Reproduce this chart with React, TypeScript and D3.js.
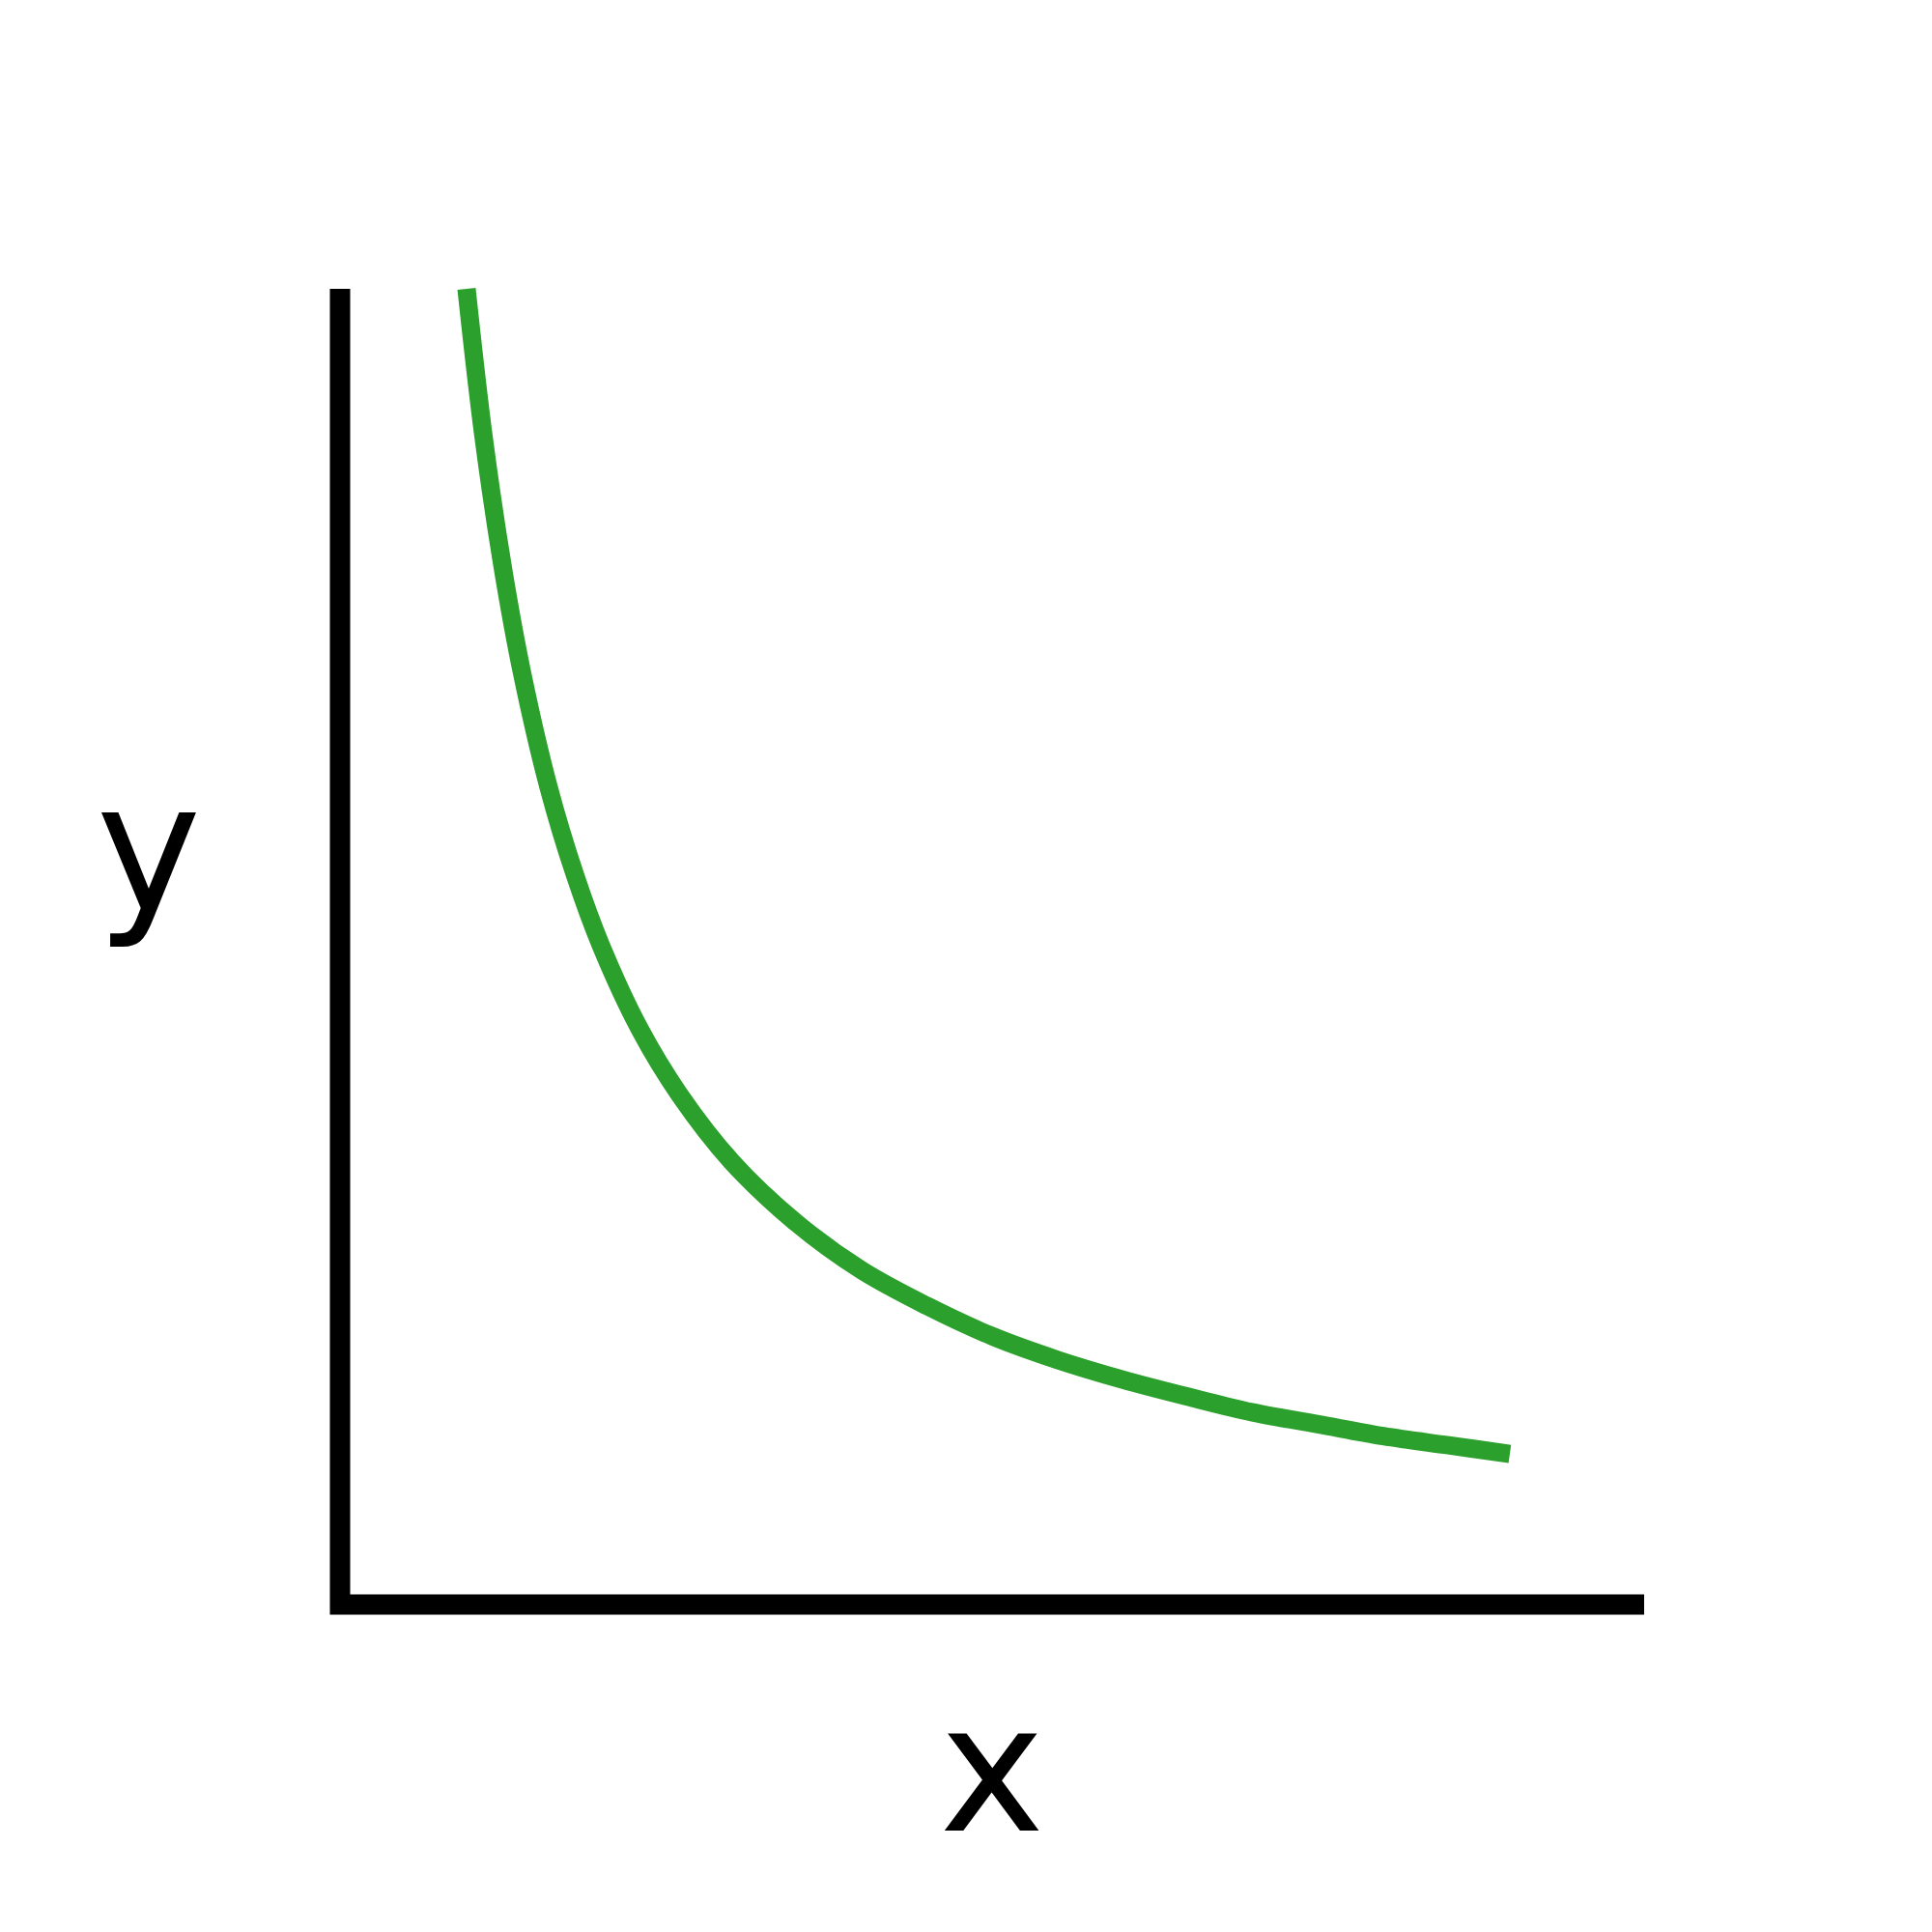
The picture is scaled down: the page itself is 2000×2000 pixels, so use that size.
import React from 'react';
import * as d3 from 'd3';

// Curve points (x in 0..10, y in 0..1)
const curveX = [0.97, 1.1, 1.25, 1.4, 1.6, 1.8, 2.0, 2.3, 2.6, 3.0, 3.5, 4.0, 4.5, 5.0, 5.5, 6.0, 6.5, 7.0, 7.5, 8.0, 8.5, 8.97];
const curveY = [1.0, 0.888, 0.787, 0.706, 0.621, 0.555, 0.501, 0.437, 0.388, 0.337, 0.29, 0.254, 0.227, 0.204, 0.186, 0.171, 0.158, 0.146, 0.137, 0.128, 0.121, 0.1145];

const xDomain = [0, 10];
const yDomain = [0, 1];
const xLabel = 'x';
const yLabel = 'y';

const App: React.FC = () => {
  const width = 2000;
  const height = 2000;
  const margin = { left: 352, right: 298, top: 299, bottom: 339 };

  const x = d3.scaleLinear().domain(xDomain).range([margin.left, width - margin.right]);
  const y = d3.scaleLinear().domain(yDomain).range([height - margin.bottom, margin.top]);

  const points: [number, number][] = curveX.map((d, i) => [d, curveY[i]]);
  const line = d3.line<[number, number]>()
    .x(d => x(d[0]))
    .y(d => y(d[1]))
    .curve(d3.curveCatmullRom.alpha(0.5));

  const x0 = x(xDomain[0]);
  const x1 = x(xDomain[1]);
  const y0 = y(yDomain[0]);
  const y1 = y(yDomain[1]);

  return (
    <svg
      width={width}
      height={height}
      style={{ position: 'absolute', left: 0, top: 0, background: '#fff' }}
    >
      <path
        d={line(points) ?? ''}
        fill="none"
        stroke="#2ca02c"
        strokeWidth={19}
        strokeLinecap="butt"
        strokeLinejoin="round"
      />
      {/* spines */}
      <path
        d={`M${x0},${y1} L${x0},${y0} L${x1},${y0}`}
        fill="none"
        stroke="#000"
        strokeWidth={21}
        strokeLinecap="butt"
        strokeLinejoin="miter"
      />
      <text
        x={(x0 + x1) / 2}
        y={1895}
        textAnchor="middle"
        fontFamily="DejaVu Sans"
        fontSize={184}
        fill="#000"
      >
        {xLabel}
      </text>
      <text
        x={154}
        y={942}
        textAnchor="middle"
        fontFamily="DejaVu Sans"
        fontSize={184}
        fill="#000"
      >
        {yLabel}
      </text>
    </svg>
  );
};

export default App;
